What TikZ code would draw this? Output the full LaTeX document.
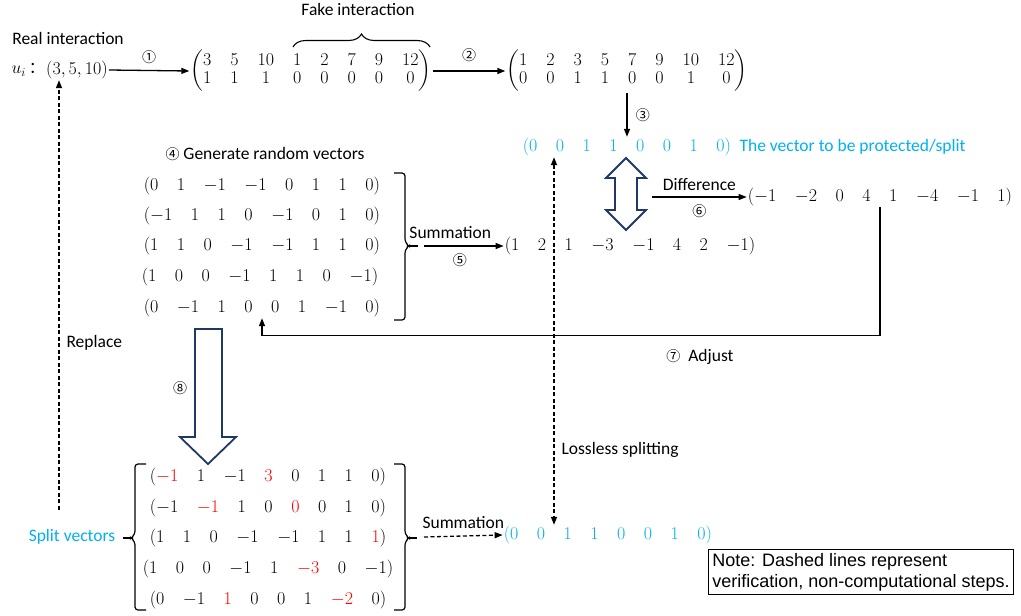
\RequirePackage{fix-cm}
\documentclass[tikz,border=0pt]{standalone}
\usepackage{amsmath}
\usepackage{fontspec}
\setmainfont{Carlito}
\newfontfamily\notefont{Liberation Sans}
\newfontfamily\cjkfont{Noto Sans CJK SC}
\usetikzlibrary{arrows.meta, decorations.pathreplacing, positioning}
\definecolor{splitblue}{RGB}{0,176,240}
\definecolor{navyline}{RGB}{32,56,100}
\newcommand{\gp}{\hspace{18.5pt}}
\newcommand{\circn}[1]{{\cjkfont\fontsize{14}{16}\selectfont #1}}
\newcommand{\rd}[1]{\textcolor{red}{#1}}

\begin{document}
\begin{tikzpicture}[x=1pt, y=-1pt, font=\fontsize{17.5}{20}\selectfont,
	>={Triangle[length=8pt, width=6pt]},
	arr/.style={->, line width=1.3pt},
	dsh/.style={line width=1.3pt, dash pattern=on 4pt off 2.5pt},
	brk/.style={line width=1.2pt, rounded corners=3pt},
	hollow/.style={draw=navyline, line width=1.8pt, fill=white, line join=miter},
	vec/.style={inner sep=1pt, font=\fontsize{18}{20}\selectfont},
	blue vec/.style={vec, text=splitblue}]

	\useasboundingbox (0,0) rectangle (1021,616);

	\node (real) at (68,38) {Real interaction};
	\node[anchor=east, inner sep=0pt] (ui) at (45,70) {$u_i$\,{\cjkfont\fontsize{16}{18}\selectfont ：}};
	\node[vec, anchor=west] (tup) at (45,70) {$(3,5,10)$};

	\node[vec] (mat1) at (311,71) {\setlength\arraycolsep{9.5pt}\renewcommand\arraystretch{0.9}$\begin{pmatrix}3&5&10&1&2&7&9&12\\1&1&1&0&0&0&0&0\end{pmatrix}$};
	\node[vec] (mat2) at (627,71) {\setlength\arraycolsep{9.5pt}\renewcommand\arraystretch{0.9}$\begin{pmatrix}1&2&3&5&7&9&10&12\\0&0&1&1&0&0&1&0\end{pmatrix}$};

	\coordinate (fakeL) at (293,47);
	\coordinate (fakeR) at (430,47);
	\draw[decorate, decoration={brace, amplitude=13pt}, line width=1.1pt] (fakeL) -- (fakeR);
	\node (fake) at (358,9) {Fake interaction};

	\draw[arr] (tup.east) -- (mat1.west) node[midway, above=3pt] {\circn{①}};
	\draw[arr] (mat1.east) -- (mat2.west) node[midway, above=5pt] {\circn{②}};

	\node[blue vec] (prot) at (627,147) {$(0\gp0\gp1\gp1\gp0\gp0\gp1\gp0)$};
	\node[right=6pt of prot, text=splitblue, inner sep=1pt] (protlbl) {The vector to be protected/split};
	\draw[arr] (mat2.south) -- (prot.north) node[midway, right=5pt] {\circn{③}};

	\draw[hollow] (626,158) -- (646,178) -- (637,178) -- (637,210) -- (646,210) -- (626,230) -- (606,210) -- (615,210) -- (615,178) -- (606,178) -- cycle;

	\node[vec] (diff) at (880,197) {$({-1}\gp{-2}\gp0\gp4\gp1\gp{-4}\gp{-1}\gp1)$};
	\coordinate (dstart) at (652,197);
	\draw[arr] (dstart) -- (diff.west) node[midway, above=2pt] {Difference} node[midway, below=4pt] {\circn{⑥}};

	\node (gen) at (265,154) {\circn{④} Generate random vectors};
	\node[vec] (r1) at (262,186) {$(0\gp1\gp{-1}\gp{-1}\gp0\gp1\gp1\gp0)$};
	\node[vec] (r2) at (262,216) {$({-1}\gp1\gp1\gp0\gp{-1}\gp0\gp1\gp0)$};
	\node[vec] (r3) at (262,246) {$(1\gp1\gp0\gp{-1}\gp{-1}\gp1\gp1\gp0)$};
	\node[vec] (r4) at (260,277) {$(1\gp0\gp0\gp{-1}\gp1\gp1\gp0\gp{-1})$};
	\node[vec] (r5) at (262,308) {$(0\gp{-1}\gp1\gp0\gp0\gp1\gp{-1}\gp0)$};

	\draw[brk] (394,173) -- (405,173) -- (405,242) -- (409,246) -- (405,250) -- (405,320) -- (394,320);
	\draw[line width=1.2pt] (409,246) -- (418,246);

	\node[vec] (sumv) at (630,246) {$(1\gp2\gp1\gp{-3}\gp{-1}\gp4\gp2\gp{-1})$};
	\coordinate (rtick) at (424,246);
	\draw[arr] (rtick) -- (sumv.west) node[pos=0.33, above=3pt] {Summation} node[pos=0.45, below=4pt] {\circn{⑤}};

	\draw[arr] (diff.south) |- ([yshift=-17pt]r5.south) -- (r5.south);
	\node (adj) at (700,357) {\circn{⑦}\ \ Adjust};

	\draw[hollow] (195,329) -- (222,329) -- (222,437) -- (236,437) -- (208,464) -- (180,437) -- (195,437) -- cycle;
	\node (eight) at (180,388) {\circn{⑧}};

	\node[vec] (b1) at (268,477) {$(\rd{-1}\gp1\gp{-1}\gp\rd{3}\gp0\gp1\gp1\gp0)$};
	\node[vec] (b2) at (268,508) {$({-1}\gp\rd{-1}\gp1\gp0\gp\rd{0}\gp0\gp1\gp0)$};
	\node[vec] (b3) at (268,538) {$(1\gp1\gp0\gp{-1}\gp{-1}\gp1\gp1\gp\rd{1})$};
	\node[vec] (b4) at (268,569) {$(1\gp0\gp0\gp{-1}\gp1\gp\rd{-3}\gp0\gp{-1})$};
	\node[vec] (b5) at (268,600) {$(0\gp{-1}\gp\rd{1}\gp0\gp0\gp1\gp\rd{-2}\gp0)$};

	\draw[brk] (146,464) -- (135,464) -- (135,534) -- (131,538) -- (135,542) -- (135,610) -- (146,610);
	\draw[line width=1.2pt] (131,538) -- (123,538);
	\draw[brk] (394,464) -- (405,464) -- (405,534) -- (409,538) -- (405,542) -- (405,610) -- (394,610);
	\draw[line width=1.2pt] (409,538) -- (417,538);

	\node[text=splitblue] (split) at (72,537) {Split vectors};
	\node[blue vec] (recv) at (608,535) {$(0\gp0\gp1\gp1\gp0\gp0\gp1\gp0)$};
	\coordinate (btick) at (424,537);
	\draw[dsh, ->] (btick) -- (recv.west) node[midway, above=3pt] {Summation};

	\draw[dsh, <->] ([xshift=-73pt]prot.south) -- ([xshift=-73pt]prot.south |- recv.north);
	\node[anchor=west] (lossless) at (558,450) {Lossless splitting};

	\draw[dsh, ->] ([xshift=-13pt, yshift=16pt]split.north) -- ([xshift=-13pt]split.north |- tup.south);
	\node[anchor=west] (replace) at (63,343) {Replace};

	\node[draw, line width=0.8pt, align=left, inner sep=4pt, font=\notefont\fontsize{18}{21}\selectfont] (note) at (861,572) {Note: Dashed lines represent\\verification, non-computational steps.};

\end{tikzpicture}
\end{document}
